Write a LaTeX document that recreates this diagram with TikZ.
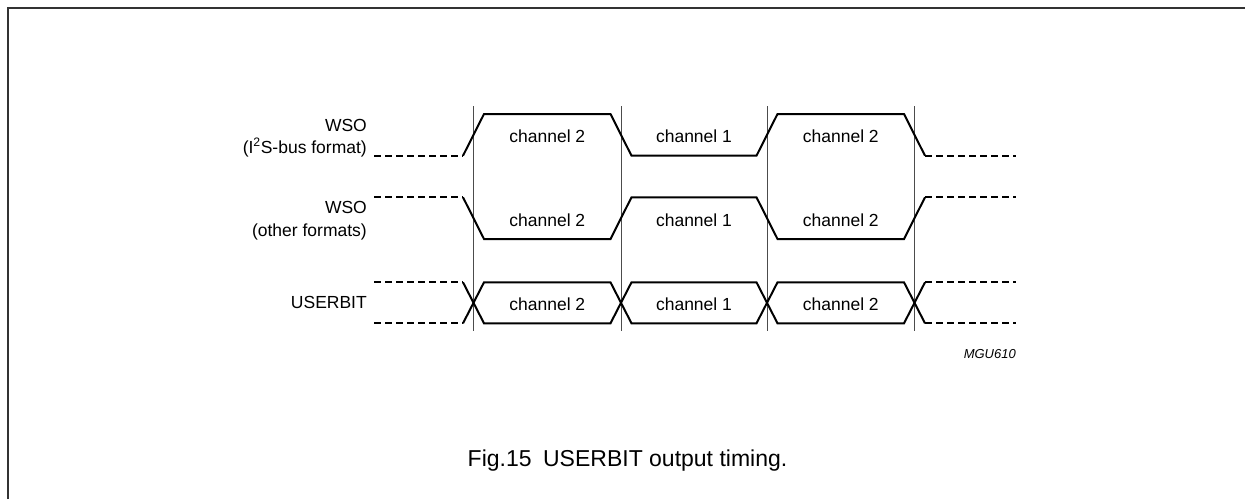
\documentclass[tikz,border=0pt]{standalone}
\usepackage{fontspec}
\setmainfont{Liberation Sans}
\begin{document}
\begin{tikzpicture}[x=1pt,y=-1pt,
  wave/.style={line width=2pt, black, line join=miter},
  dashwave/.style={line width=2pt, black, dash pattern=on 7pt off 4pt},
  guide/.style={line width=0.9pt, black!70},
  frame/.style={line width=2pt, black!80},
  lbl/.style={inner sep=0pt, font=\fontsize{17.5}{20}\selectfont},
  chan/.style={inner sep=0pt, anchor=base, font=\fontsize{17.5}{20}\selectfont}]
\useasboundingbox (0,0) rectangle (1245,499);
% frame (top and left edges)
\draw[frame] (7.5,499) -- (7.5,7.5) -- (1245,7.5);
% time guides
\foreach \t in {473.5,621,767,914.5}
  \draw[guide] (\t,106) -- (\t,331);
% Row 1: WSO (I2S-bus format)
\def\Ha{114}\def\La{155.7}
\draw[dashwave] (374.3,\La) -- (463,\La);
\draw[wave] (463,\La) -- (484,\Ha) -- (610.5,\Ha) -- (631.5,\La) -- (756.5,\La) -- (777.5,\Ha) -- (904,\Ha) -- (925,\La);
\draw[dashwave] (925,\La) -- (1016,\La);
% Row 2: WSO (other formats)
\def\Hb{197.3}\def\Lb{239}
\draw[dashwave] (374.3,\Hb) -- (463,\Hb);
\draw[wave] (463,\Hb) -- (484,\Lb) -- (610.5,\Lb) -- (631.5,\Hb) -- (756.5,\Hb) -- (777.5,\Lb) -- (904,\Lb) -- (925,\Hb);
\draw[dashwave] (925,\Hb) -- (1016,\Hb);
% Row 3: USERBIT
\def\Hc{282.3}\def\Lc{323.3}
\draw[dashwave] (374.3,\Hc) -- (463,\Hc);
\draw[dashwave] (374.3,\Lc) -- (463,\Lc);
\draw[wave] (463,\Hc) -- (484,\Lc) -- (610.5,\Lc) -- (631.5,\Hc) -- (756.5,\Hc) -- (777.5,\Lc) -- (904,\Lc) -- (925,\Hc);
\draw[wave] (463,\Lc) -- (484,\Hc) -- (610.5,\Hc) -- (631.5,\Lc) -- (756.5,\Lc) -- (777.5,\Hc) -- (904,\Hc) -- (925,\Lc);
\draw[dashwave] (925,\Hc) -- (1016,\Hc);
\draw[dashwave] (925,\Lc) -- (1016,\Lc);
% labels
\node[lbl, anchor=base east] (wsoa) at (367,131) {WSO};
\node[lbl, anchor=base east] (wsoafmt) at (367,153) {(I\textsuperscript{2}S-bus format)};
\node[lbl, anchor=base east] (wsob) at (367,213.3) {WSO};
\node[lbl, anchor=base east] (wsobfmt) at (367,236) {(other formats)};
\node[lbl, anchor=base east] (ub) at (367,308.3) {USERBIT};
% channel names
\node[chan] (a1) at (547.3,142.3) {channel 2};
\node[chan] (a2) at (694,142.3) {channel 1};
\node[chan] (a3) at (840.8,142.3) {channel 2};
\node[chan] (b1) at (547.3,226.7) {channel 2};
\node[chan] (b2) at (694,226.7) {channel 1};
\node[chan] (b3) at (840.8,226.7) {channel 2};
\node[chan] (c1) at (547.3,310) {channel 2};
\node[chan] (c2) at (694,310) {channel 1};
\node[chan] (c3) at (840.8,310) {channel 2};
% code
\node[inner sep=0pt, anchor=base east, font=\fontsize{13}{15}\selectfont\itshape] (code) at (1016,358) {MGU610};
% caption
\node[inner sep=0pt, anchor=base, font=\fontsize{23}{27}\selectfont] (cap) at (627.5,466.7) {Fig.15\hspace{0.5em}USERBIT output timing.};
\end{tikzpicture}
\end{document}
